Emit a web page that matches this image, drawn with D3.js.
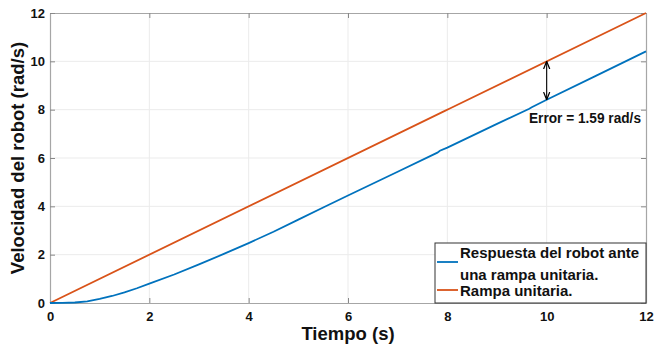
<!DOCTYPE html>
<html>
<head>
<meta charset="utf-8">
<script src="https://cdn.jsdelivr.net/npm/d3@7"></script>
<style>
  html, body { margin: 0; padding: 0; background: #fff; }
  svg { display: block; font-family: "Liberation Sans", Arial, sans-serif; }
</style>
</head>
<body>
<svg id="chart" width="654" height="345"></svg>
<script>
// Time samples (s) and the robot speed response (rad/s) to a unit ramp
const responseTime = [0, 0.25, 0.5, 0.75, 1, 1.25, 1.5, 1.75, 2, 2.5, 3, 3.5, 4, 4.5, 5, 5.5, 6, 7, 7.8, 7.85, 8, 9, 9.65, 9.7, 10, 11, 12];
const responseValue = [0, 0.003, 0.02, 0.07, 0.17, 0.29, 0.44, 0.61, 0.8, 1.18, 1.6, 2.03, 2.48, 2.95, 3.45, 3.95, 4.45, 5.43, 6.22, 6.3, 6.43, 7.41, 8.04, 8.1, 8.41, 9.41, 10.41];

// Unit ramp input
const rampTime = [0, 7.95, 8.05, 12];
const rampValue = [0, 7.95, 8.05, 12];

// Axis ticks
const xTicks = [0, 2, 4, 6, 8, 10, 12];
const yTicks = [0, 2, 4, 6, 8, 10, 12];

// Steady-state error annotation
const errorTime = 10;
const errorValue = 1.59;
const errorLabel = "Error = 1.59 rad/s";

const legendLabels = [["Respuesta del robot ante", "una rampa unitaria."], ["Rampa unitaria."]];
const colors = ["#0072BD", "#D95319"];

const svg = d3.select("#chart");
const margin = { left: 50, right: 8, top: 13, bottom: 42 };
const W = 654, H = 345;

const x = d3.scaleLinear().domain([0, 12]).range([margin.left, W - margin.right]);
const y = d3.scaleLinear().domain([0, 12]).range([H - margin.bottom, margin.top]);

const fontFam = '"Liberation Sans", Arial, sans-serif';

// Grid
const grid = svg.append("g");
grid.selectAll(".gx").data(xTicks.slice(1, -1)).join("line")
  .attr("x1", d => x(d)).attr("x2", d => x(d))
  .attr("y1", y(0)).attr("y2", y(12))
  .attr("stroke", "#ebebeb").attr("stroke-width", 1);
grid.selectAll(".gy").data(yTicks.slice(1, -1)).join("line")
  .attr("x1", x(0)).attr("x2", x(12))
  .attr("y1", d => y(d)).attr("y2", d => y(d))
  .attr("stroke", "#ebebeb").attr("stroke-width", 1);

// Axes (ticks pointing inward, labels outside)
const axisColor = "#a6a6a6";
function styleAxis(g, showLabels) {
  g.select(".domain").attr("stroke", axisColor).attr("stroke-width", 1.2);
  g.selectAll(".tick line").attr("stroke", "#888");
  g.selectAll(".tick text")
    .attr("fill", "#111")
    .style("font-family", fontFam)
    .style("font-size", "13px")
    .style("font-weight", "bold")
    .style("display", showLabels ? null : "none");
}

svg.append("g").attr("transform", `translate(0,${y(0)})`)
  .call(d3.axisBottom(x).tickValues(xTicks).tickSizeInner(-5).tickSizeOuter(0).tickPadding(9).tickFormat(d3.format("d")))
  .call(g => styleAxis(g, true));
svg.append("g").attr("transform", `translate(0,${y(12)})`)
  .call(d3.axisTop(x).tickValues(xTicks).tickSizeInner(-5).tickSizeOuter(0).tickFormat(""))
  .call(g => styleAxis(g, false));
svg.append("g").attr("transform", `translate(${x(0)},0)`)
  .call(d3.axisLeft(y).tickValues(yTicks).tickSizeInner(-5).tickSizeOuter(0).tickPadding(5).tickFormat(d3.format("d")))
  .call(g => styleAxis(g, true));
svg.append("g").attr("transform", `translate(${x(12)},0)`)
  .call(d3.axisRight(y).tickValues(yTicks).tickSizeInner(-5).tickSizeOuter(0).tickFormat(""))
  .call(g => styleAxis(g, false));

// Lines
const line = d3.line().x(d => x(d[0])).y(d => y(d[1]));
svg.append("path")
  .datum(rampTime.map((t, i) => [t, rampValue[i]]))
  .attr("d", line).attr("fill", "none")
  .attr("stroke", colors[1]).attr("stroke-width", 1.8);
svg.append("path")
  .datum(responseTime.map((t, i) => [t, responseValue[i]]))
  .attr("d", line).attr("fill", "none")
  .attr("stroke", colors[0]).attr("stroke-width", 1.8);

// Error arrow (double headed)
const defs = svg.append("defs");
defs.append("marker").attr("id", "head")
  .attr("viewBox", "0 0 10 10").attr("refX", 10).attr("refY", 5)
  .attr("markerWidth", 7).attr("markerHeight", 7).attr("orient", "auto-start-reverse")
  .append("path").attr("d", "M0,1 L10,5 L0,9").attr("fill", "none").attr("stroke", "#000").attr("stroke-width", 1.6);
svg.append("line")
  .attr("x1", x(errorTime)).attr("x2", x(errorTime))
  .attr("y1", y(errorTime)).attr("y2", y(errorTime - errorValue))
  .attr("stroke", "#000").attr("stroke-width", 1.1)
  .attr("marker-start", "url(#head)").attr("marker-end", "url(#head)");
svg.append("text")
  .attr("x", 529).attr("y", 123)
  .attr("textLength", 112).attr("lengthAdjust", "spacingAndGlyphs")
  .style("font-family", fontFam).style("font-size", "14.5px").style("font-weight", "bold")
  .attr("fill", "#111")
  .text(errorLabel);

// Axis titles
svg.append("text")
  .attr("x", (x(0) + x(12)) / 2).attr("y", 340)
  .attr("text-anchor", "middle")
  .style("font-family", fontFam).style("font-size", "18.5px").style("font-weight", "bold")
  .attr("fill", "#111")
  .text("Tiempo (s)");
svg.append("text")
  .attr("transform", `translate(24,${(y(0) + y(12)) / 2}) rotate(-90)`)
  .attr("text-anchor", "middle")
  .style("font-family", fontFam).style("font-size", "18.5px").style("font-weight", "bold")
  .attr("fill", "#111")
  .text("Velocidad del robot (rad/s)");

// Legend
const lg = svg.append("g");
const lx = 435, ly = 243, lw = x(12) - lx, lh = y(0) - ly;
lg.append("rect").attr("x", lx).attr("y", ly).attr("width", lw).attr("height", lh)
  .attr("fill", "#fff").attr("stroke", "#333").attr("stroke-width", 1);
const rows = [{ lines: legendLabels[0], yLine: 262, yText: [258, 280], c: colors[0] },
              { lines: legendLabels[1], yLine: 290, yText: [296], c: colors[1] }];
rows.forEach(r => {
  lg.append("line").attr("x1", lx + 2).attr("x2", lx + 23).attr("y1", r.yLine).attr("y2", r.yLine)
    .attr("stroke", r.c).attr("stroke-width", 1.8);
  r.lines.forEach((t, i) => {
    lg.append("text").attr("x", lx + 25).attr("y", r.yText[i])
      .style("font-family", fontFam).style("font-size", "15px").style("font-weight", "bold")
      .attr("fill", "#111").text(t);
  });
});
</script>
</body>
</html>
